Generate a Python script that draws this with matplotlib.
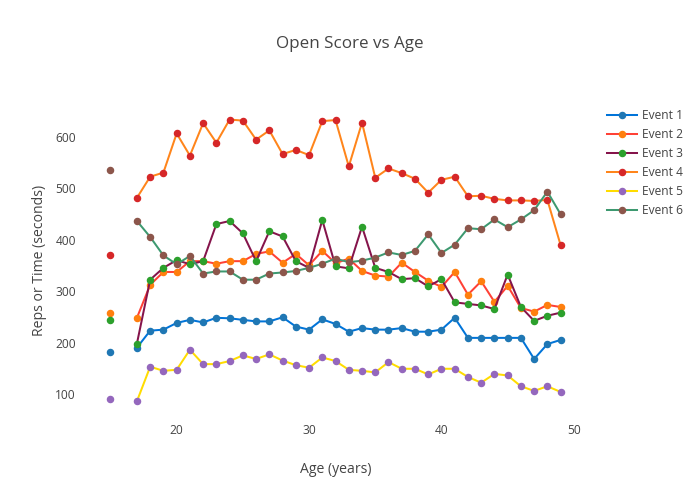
import numpy as np
import matplotlib.pyplot as plt

plt.rcParams['font.family'] = ['Open Sans', 'DejaVu Sans']

ages = list(range(15, 50))
nan = np.nan

# values per age 15..49 (no data at 16)
event1 = [182, nan, 190, 223, 225, 238, 244, 239, 248, 247, 244, 241, 241, 249, 231, 225, 245, 236,
          221, 228, 225, 225, 228, 221, 221, 225, 248, 209, 209, 209, 209, 209, 168, 197, 205]
event2 = [258, nan, 248, 312, 337, 337, 358, 358, 353, 358, 358, 372, 377, 355, 372, 350, 378, 354,
          363, 339, 330, 328, 355, 337, 320, 308, 337, 293, 319, 279, 310, 267, 260, 273, 269]
event3 = [244, nan, 198, 322, 345, 360, 352, 358, 430, 436, 412, 358, 416, 406, 358, 345, 438, 348,
          344, 425, 345, 337, 323, 325, 309, 323, 278, 275, 272, 265, 332, 269, 242, 252, 258]
event4 = [369, nan, 481, 522, 530, 606, 563, 626, 588, 633, 631, 594, 612, 566, 574, 564, 630, 632,
          542, 627, 520, 538, 529, 518, 491, 516, 522, 484, 485, 479, 476, 476, 475, 477, 389]
event5 = [91, nan, 86, 153, 145, 147, 186, 158, 158, 164, 175, 168, 177, 165, 156, 151, 171, 164,
          147, 145, 142, 162, 149, 149, 138, 149, 149, 133, 122, 139, 136, 115, 106, 115, 104]
event6 = [536, nan, 436, 405, 369, 352, 368, 334, 338, 338, 322, 322, 334, 336, 339, 345, 353, 363,
          356, 359, 365, 375, 370, 378, 410, 374, 390, 422, 420, 439, 424, 439, 457, 493, 449]

names = ["Event 1", "Event 2", "Event 3", "Event 4", "Event 5", "Event 6"]
series = [event1, event2, event3, event4, event5, event6]
line_colors = ["#0074D9", "#FF4136", "#85144B", "#FF851B", "#FFDC00", "#3D9970"]
marker_colors = ["#1f77b4", "#ff7f0e", "#2ca02c", "#d62728", "#9467bd", "#8c564b"]

fig = plt.figure(figsize=(7, 5), dpi=100)
ax = fig.add_axes([80 / 700, 80 / 500, 512 / 700, 320 / 500])

for name, vals, lc, mc in zip(names, series, line_colors, marker_colors):
    ax.plot(ages, vals, color=lc, linewidth=1.45, marker='o', markersize=4.4,
            markerfacecolor=mc, markeredgecolor=mc, label=name)

ax.set_xlim(12.7, 51.37)
ax.set_ylim(49.5, 671)
ax.set_xticks([20, 30, 40, 50])
ax.set_yticks([100, 200, 300, 400, 500, 600])
for s in ax.spines.values():
    s.set_visible(False)
ax.tick_params(length=0, labelsize=8.64, labelcolor='#444', pad=3)

ax.set_xlabel("Age (years)", fontsize=10.08, color='#444', labelpad=18)
ax.set_ylabel("Reps or Time (seconds)", fontsize=10.08, color='#444', labelpad=6)
fig.text(0.5, 1 - 44 / 500, "Open Score vs Age", ha='center', va='center',
         fontsize=12.24, color='#444')

ax.legend(loc='upper left', bbox_to_anchor=(607 / 700, 1 - 109 / 500),
          bbox_transform=fig.transFigure, frameon=False, fontsize=8.64,
          handlelength=2.5, handletextpad=0.4, labelspacing=0.5,
          borderaxespad=0, borderpad=0, labelcolor='#444')

fig.savefig("out.png")
